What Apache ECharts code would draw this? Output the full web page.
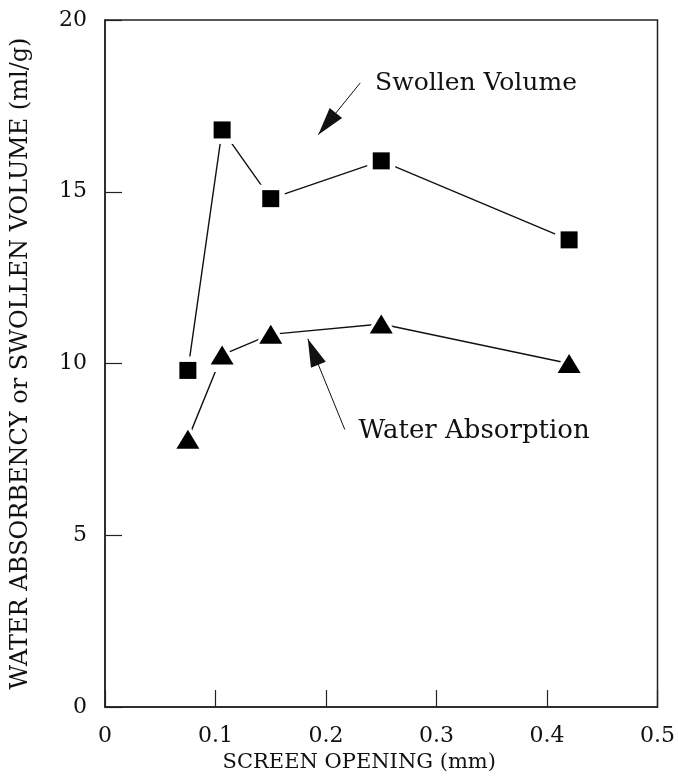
<!DOCTYPE html>
<html>
<head>
<meta charset="utf-8">
<script src="https://cdn.jsdelivr.net/npm/echarts@6/dist/echarts.min.js"></script>
<style>
html,body{margin:0;padding:0;background:#fff;}
#chart{width:678px;height:778px;}
</style>
</head>
<body>
<div id="chart"></div>
<script>
// Data
var screenOpening = [0.075, 0.106, 0.15, 0.25, 0.42];
var swollenVolume = [9.8, 16.8, 14.8, 15.9, 13.6];
var waterAbsorption = [7.8, 10.25, 10.85, 11.15, 10.0];
var xTicks = [0, 0.1, 0.2, 0.3, 0.4, 0.5];
var yTicks = [0, 5, 10, 15, 20];
var xTitle = 'SCREEN OPENING (mm)';
var yTitle = 'WATER ABSORBENCY or SWOLLEN VOLUME (ml/g)';
// annotation anchors (data space)
var swollenLabel = {text: 'Swollen Volume', at: [0.244, 18.14]};
var swollenArrow = {from: [0.231, 18.17], to: [0.193, 16.66]};
var waterLabel = {text: 'Water Absorption', at: [0.229, 8.02]};
var waterArrow = {from: [0.217, 8.08], to: [0.1835, 10.72]};

var FONT = 'DejaVu Serif';
var arrowHead = 'path://M0,0 L8,28 L-8,28 Z M0,-28';

function pairs(xs, ys){ return xs.map(function(x,i){return [x, ys[i]];}); }

var axisCommon = {
  axisLine:{show:true, lineStyle:{color:'#222', width:1.5}},
  axisTick:{show:true, inside:true, length:17, lineStyle:{color:'#222', width:1.2}},
  splitLine:{show:false}
};

var chart = echarts.init(document.getElementById('chart'), null, {renderer:'canvas'});
chart.setOption({
  animation: false,
  backgroundColor: '#fff',
  grid: {left:105, right:20, top:20, bottom:70, show:true, borderColor:'#222', borderWidth:1.5, backgroundColor:'transparent'},
  xAxis: Object.assign({
    type:'value', min:xTicks[0], max:xTicks[xTicks.length-1], interval:0.1,
    name: xTitle, nameLocation:'middle', nameGap:43,
    nameTextStyle:{fontFamily:FONT, fontSize:21, color:'#111', padding:[0,44,0,0]},
    axisLabel:{fontFamily:FONT, fontSize:22, color:'#111', margin:18,
      formatter:function(v){ return String(Math.round(v*10)/10); }}
  }, axisCommon),
  yAxis: Object.assign({
    type:'value', min:yTicks[0], max:yTicks[yTicks.length-1], interval:5,
    name: yTitle, nameLocation:'middle', nameGap:72, nameRotate:90,
    nameTextStyle:{fontFamily:FONT, fontSize:24, color:'#111'},
    axisLabel:{fontFamily:FONT, fontSize:22, color:'#111', margin:18}
  }, axisCommon),
  series: [
    {
      type:'line', name:'Swollen Volume', data: pairs(screenOpening, swollenVolume),
      symbol:'rect', symbolSize:28,
      lineStyle:{color:'#111', width:1.4},
      itemStyle:{color:'#fff', borderWidth:0},
      z:3,
      markPoint:{
        symbol:'rect', symbolSize:1, itemStyle:{color:'transparent'},
        label:{show:true, position:'right', distance:0, fontFamily:FONT, fontSize:25, color:'#111',
          formatter:function(){return swollenLabel.text;}},
        data:[{coord: swollenLabel.at}]
      },
      markLine:{
        silent:true, symbol:['none', arrowHead], symbolSize:[16,56],
        lineStyle:{color:'#111', width:1, type:'solid'}, label:{show:false},
        data:[[{coord: swollenArrow.from}, {coord: swollenArrow.to}]]
      }
    },
    {
      type:'line', name:'Water Absorption', data: pairs(screenOpening, waterAbsorption),
      symbol:'triangle', symbolSize:[38,34],
      lineStyle:{color:'#111', width:1.4},
      itemStyle:{color:'#fff', borderWidth:0},
      z:3,
      markPoint:{
        symbol:'rect', symbolSize:1, itemStyle:{color:'transparent'},
        label:{show:true, position:'right', distance:0, fontFamily:FONT, fontSize:26, color:'#111',
          formatter:function(){return waterLabel.text;}},
        data:[{coord: waterLabel.at}]
      },
      markLine:{
        silent:true, symbol:['none', arrowHead], symbolSize:[16,56],
        lineStyle:{color:'#111', width:1, type:'solid'}, label:{show:false},
        data:[[{coord: waterArrow.from}, {coord: waterArrow.to}]]
      }
    },
    {
      type:'scatter', name:'Swollen Volume markers', data: pairs(screenOpening, swollenVolume),
      symbol:'rect', symbolSize:17, itemStyle:{color:'#000', opacity:1}, z:5
    },
    {
      type:'scatter', name:'Water Absorption markers', data: pairs(screenOpening, waterAbsorption),
      symbol:'triangle', symbolSize:[23,19], itemStyle:{color:'#000', opacity:1}, z:5
    }
  ]
});
</script>
</body>
</html>
